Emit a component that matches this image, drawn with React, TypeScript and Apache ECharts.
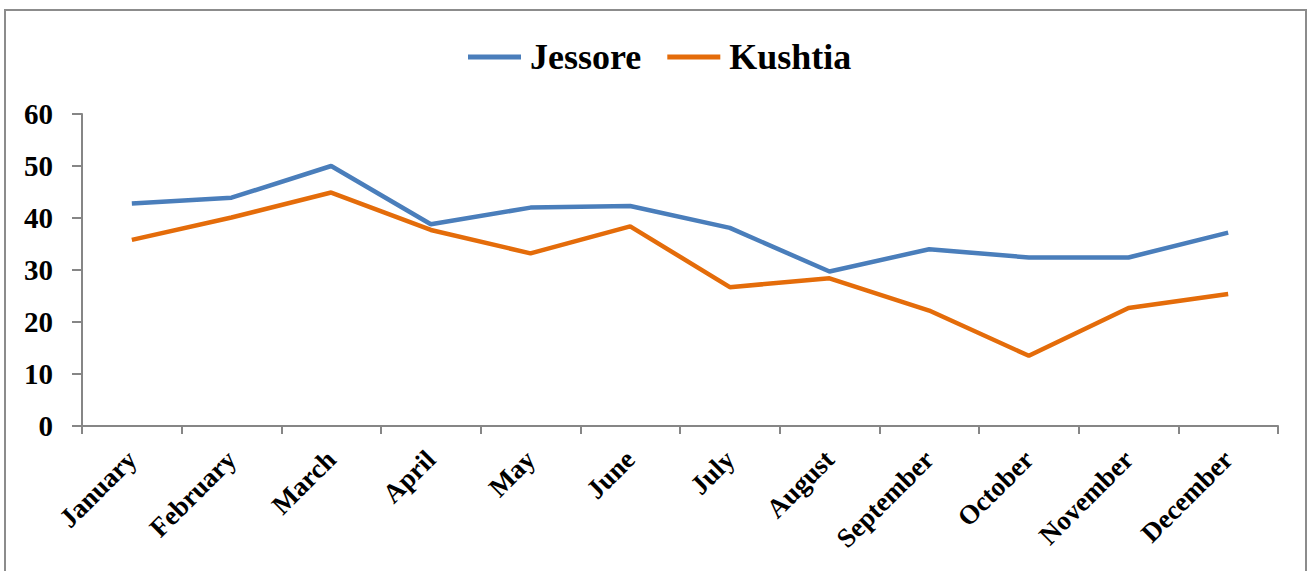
import React, { useEffect, useRef } from "react";
import * as echarts from "echarts";

const months = [
  "January", "February", "March", "April", "May", "June",
  "July", "August", "September", "October", "November", "December",
];
const jessore = [42.8, 43.9, 50.0, 38.8, 42.0, 42.3, 38.1, 29.7, 34.0, 32.4, 32.4, 37.2];
const kushtia = [35.8, 40.1, 44.9, 37.7, 33.2, 38.4, 26.7, 28.4, 22.2, 13.5, 22.7, 25.4];
const yTicks = { min: 0, max: 60, interval: 10 };

const FONT = "'Liberation Serif', 'Times New Roman', serif";

export default function App() {
  const ref = useRef<HTMLDivElement>(null);
  useEffect(() => {
    if (!ref.current) return;
    const chart = echarts.init(ref.current, null, { renderer: "svg" });
    chart.setOption({
      animation: false,
      backgroundColor: "#ffffff",
      graphic: [
        {
          type: "rect",
          shape: { x: 5, y: 10, width: 1301, height: 575 },
          style: { fill: "none", stroke: "#8c8c8c", lineWidth: 2 },
          silent: true,
        },
      ],
      legend: {
        left: 463,
        top: 34,
        itemWidth: 53,
        itemHeight: 5,
        itemGap: 26,
        icon: "rect",
        textStyle: {
          fontFamily: FONT,
          fontWeight: "bold",
          fontSize: 36,
          color: "#000",
          padding: [0, 0, 0, 4],
        },
        data: ["Jessore", "Kushtia"],
      },
      grid: { left: 82, right: 31, top: 114, bottom: 145, containLabel: false },
      xAxis: {
        type: "category",
        data: months,
        boundaryGap: true,
        axisLine: { show: true, lineStyle: { color: "#868686", width: 2 } },
        axisTick: { show: true, length: 8, alignWithLabel: false, lineStyle: { color: "#868686", width: 2 } },
        axisLabel: {
          rotate: 45,
          margin: 29,
          interval: 0,
          fontFamily: FONT,
          fontWeight: "bold",
          fontSize: 27,
          color: "#000",
        },
        splitLine: { show: false },
      },
      yAxis: {
        type: "value",
        min: yTicks.min,
        max: yTicks.max,
        interval: yTicks.interval,
        axisLine: { show: true, lineStyle: { color: "#868686", width: 2 } },
        axisTick: { show: true, length: 10, lineStyle: { color: "#868686", width: 2 } },
        axisLabel: {
          margin: 29,
          fontFamily: FONT,
          fontWeight: "bold",
          fontSize: 29,
          color: "#000",
        },
        splitLine: { show: false },
      },
      series: [
        {
          name: "Jessore",
          type: "line",
          data: jessore,
          symbol: "none",
          lineStyle: { color: "#4A7EBB", width: 4.5 },
          itemStyle: { color: "#4A7EBB" },
        },
        {
          name: "Kushtia",
          type: "line",
          data: kushtia,
          symbol: "none",
          lineStyle: { color: "#E46C0A", width: 4.5 },
          itemStyle: { color: "#E46C0A" },
        },
      ],
    });
    return () => chart.dispose();
  }, []);
  return (
    <div
      ref={ref}
      style={{ position: "absolute", left: 0, top: 0, width: 1309, height: 571 }}
    />
  );
}
